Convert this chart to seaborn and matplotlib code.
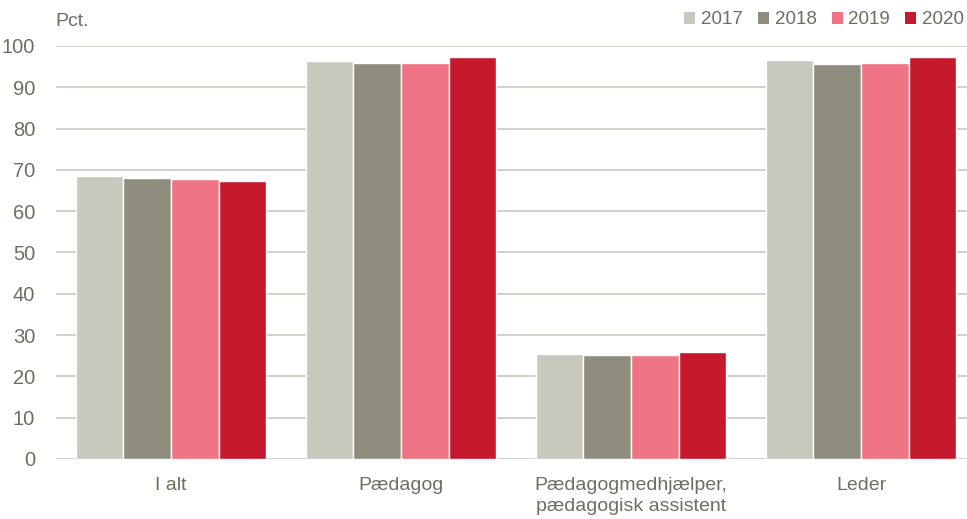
import matplotlib
matplotlib.use("Agg")
import matplotlib.pyplot as plt
from matplotlib.patches import Patch
import seaborn as sns
import pandas as pd

categories = ["I alt", "Pædagog", "Pædagogmedhjælper,\npædagogisk assistent", "Leder"]
years = ["2017", "2018", "2019", "2020"]
v2017 = [68.6, 96.4, 25.4, 96.5]
v2018 = [68.1, 96.0, 25.3, 95.7]
v2019 = [67.9, 96.0, 25.1, 96.0]
v2020 = [67.4, 97.4, 25.8, 97.3]
colors = ["#C8C8BC", "#8F8E7E", "#EF7585", "#C5192D"]
text_color = "#6E6E60"
grid_color = "#C9C9BE"

rows = []
for y, vals in zip(years, [v2017, v2018, v2019, v2020]):
    for c, v in zip(categories, vals):
        rows.append({"cat": c, "year": y, "val": v})
df = pd.DataFrame(rows)

sns.set_theme(style="white")
plt.rcParams["font.family"] = ["Liberation Sans", "DejaVu Sans"]

fig = plt.figure(figsize=(9.67, 5.19), dpi=100)
ax = fig.add_axes([56 / 967, 60 / 519, 920 / 967, 413 / 519])

sns.barplot(data=df, x="cat", y="val", hue="year", order=categories, hue_order=years,
            palette=colors, width=0.83, edgecolor="white", linewidth=1.0,
            saturation=1, legend=False, ax=ax, errorbar=None)

ax.set_ylim(0, 100)
ax.set_xlim(-0.5, 3.5)
ax.set_yticks(range(0, 101, 10))
ax.yaxis.grid(True, color=grid_color, linewidth=1.2)
ax.set_axisbelow(True)
for s in ax.spines.values():
    s.set_visible(False)
ax.set_xlabel("")
ax.set_ylabel("")
ax.tick_params(axis="y", length=0, pad=15, labelsize=14.5, labelcolor=text_color)
ax.tick_params(axis="x", length=0, pad=13, labelsize=14, labelcolor=text_color)
for lab in ax.get_xticklabels():
    lab.set_linespacing(1.3)
    lab.set_va("top")

fig.text(55 / 967, 1 - 22 / 519, "Pct.", fontsize=14, color=text_color, va="center", ha="left")

handles = [Patch(facecolor=c, edgecolor="none") for c in colors]
fig.legend(handles, years, loc="center right", bbox_to_anchor=(0.997, 1 - 20 / 519), ncol=4,
           frameon=False, fontsize=13.5, labelcolor=text_color, handlelength=0.6, handleheight=0.6,
           handletextpad=0.3, columnspacing=0.8, borderaxespad=0, borderpad=0)

fig.savefig("out.png", dpi=100)
